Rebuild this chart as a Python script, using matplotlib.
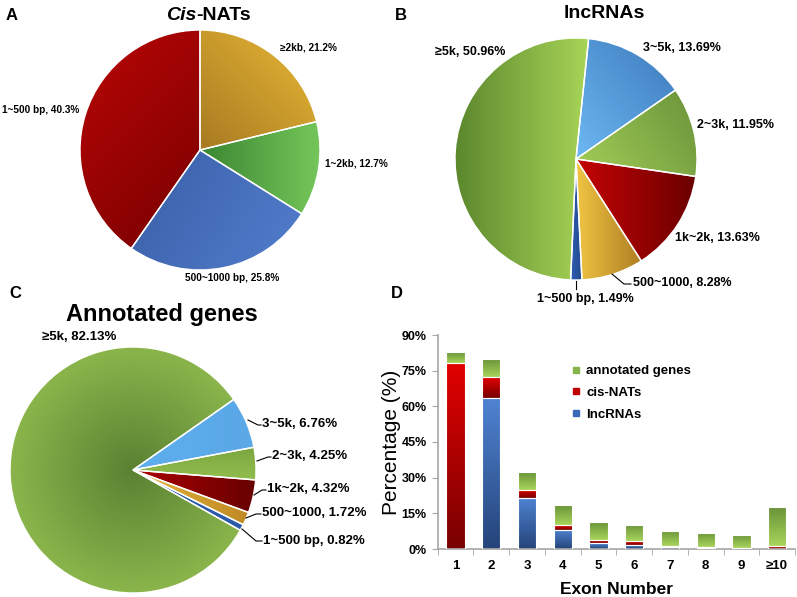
import numpy as np
import matplotlib
matplotlib.use("Agg")
import matplotlib.pyplot as plt
from matplotlib.colors import LinearSegmentedColormap
from matplotlib.lines import Line2D

plt.rcParams['font.family'] = ['Liberation Sans', 'DejaVu Sans']

W, H = 797, 597

# ---- data ----
cis_labels = ['≥2kb', '1~2kb', '500~1000 bp', '1~500 bp']
cis_values = [21.2, 12.7, 25.8, 40.3]

lnc_labels = ['3~5k', '2~3k', '1k~2k', '500~1000', '1~500 bp', '≥5k']
lnc_values = [13.69, 11.95, 13.63, 8.28, 1.49, 50.96]

ann_labels = ['3~5k', '2~3k', '1k~2k', '500~1000', '1~500 bp', '≥5k']
ann_values = [6.76, 4.25, 4.32, 1.72, 0.82, 82.13]

exon_labels = ['1', '2', '3', '4', '5', '6', '7', '8', '9', '≥10']
exon_lnc = [0, 63.7, 21.5, 8.2, 2.4, 1.8, 1.0, 0.3, 0.2, 0.2]
exon_cis = [78.4, 8.8, 3.5, 2.1, 1.5, 1.4, 0.3, 0.4, 0.1, 1.2]
exon_ann = [4.6, 7.4, 7.3, 8.1, 7.5, 7.0, 6.4, 6.1, 5.6, 16.2]
yticks = [0, 15, 30, 45, 60, 75, 90]


def shade(ax, patch, extent, c1, c2, angle=None, z=2):
    """fill patch with a gradient image clipped to it"""
    n = 80
    x0, x1, y0, y1 = extent
    X, Y = np.meshgrid(np.linspace(x0, x1, n), np.linspace(y0, y1, n))
    if angle is None:
        t = np.hypot(X, Y)
        t = t / t.max()
    else:
        a = np.deg2rad(angle)
        t = X * np.cos(a) + Y * np.sin(a)
        t = (t - t.min()) / (t.max() - t.min() + 1e-12)
    cmap = LinearSegmentedColormap.from_list('g', [c1, c2])
    im = ax.imshow(t, cmap=cmap, extent=extent, origin='lower',
                   interpolation='bilinear', aspect='auto', zorder=z)
    im.set_clip_path(patch)


def pie_axes(cx, cy, r, half=1.6):
    ax = fig.add_axes([(cx - half * r) / W, (H - cy - half * r) / H,
                       2 * half * r / W, 2 * half * r / H])
    return ax


def draw_pie(ax, values, start, shades, half=1.6):
    wedges, _ = ax.pie(values, startangle=start, counterclock=False,
                       wedgeprops=dict(edgecolor='white', linewidth=1.0))
    for w, s in zip(wedges, shades):
        w.set_facecolor('none')
        w.set_zorder(3)
        ext = w.get_path().get_extents()
        if s[2] == 'radial':
            extent = (-1, 1, -1, 1)
            shade(ax, w, extent, s[0], s[1], None)
        else:
            extent = (ext.x0, ext.x1, ext.y0, ext.y1)
            shade(ax, w, extent, s[0], s[1], s[2])
    ax.set_xlim(-half, half)
    ax.set_ylim(-half, half)
    ax.set_axis_off()


def px(cx, cy, r, x, y):
    return (x - cx) / r, (cy - y) / r


fig = plt.figure(figsize=(W / 100, H / 100), dpi=100)

# ---- A: cis-NATs ----
A = (200, 150, 120)
axA = pie_axes(*A)
draw_pie(axA, cis_values, 90, [
    ('#A87A22', '#E9B935', 45),
    ('#3B8632', '#74C65A', 0),
    ('#3A5EA6', '#527ECE', -30),
    ('#BA0606', '#780000', -45),
])
for lab, v, (x, y), ha in zip(cis_labels, cis_values,
                              [(280, 47), (325, 163), (232, 278), (2, 110)],
                              ['left', 'left', 'center', 'left']):
    axA.text(*px(*A, x, y), f'{lab}, {v}%', ha=ha, va='center',
             fontsize=7.2, fontweight='bold')

# ---- B: lncRNAs ----
B = (576, 159, 121)
axB = pie_axes(*B)
draw_pie(axB, lnc_values, 84, [
    ('#6DB8F2', '#3C79BC', 40),
    ('#A4CE57', '#69933A', 35),
    ('#C40404', '#6C0000', 0),
    ('#F0C443', '#AE7E22', 0),
    ('#2D5CB0', '#24498C', 0),
    ('#5C882E', '#A8D457', 0),
])
posB = [(643, 48), (697, 125), (675, 238), (633, 283), (537, 299), (435, 52)]
for lab, v, (x, y) in zip(lnc_labels, lnc_values, posB):
    axB.text(*px(*B, x, y), f'{lab}, {v:.2f}%', ha='left', va='center',
             fontsize=9, fontweight='bold')
for pts in [[(612, 274), (624, 284), (631, 284)], [(576, 281), (576, 289)]]:
    xs, ys = zip(*[px(*B, a, b) for a, b in pts])
    axB.plot(xs, ys, color='black', lw=0.8, zorder=4)

# ---- C: annotated genes ----
C = (133, 470, 123)
axC = pie_axes(*C)
draw_pie(axC, ann_values, 35, [
    ('#5EAEEE', '#5AA8E6', 0),
    ('#92BE4E', '#7BA640', 90),
    ('#AC0000', '#680000', 0),
    ('#E3B43A', '#C08A25', 0),
    ('#2C5AA8', '#2C5AA8', 0),
    ('#5A8233', '#9ECA55', 'radial'),
])
posC = [(262, 424), (272, 456), (267, 489), (262, 513), (263, 541), (42, 337)]
leadC = [[(248, 420), (258, 425), (261, 425)],
         [(257, 461), (268, 457), (271, 457)],
         [(254, 495), (262, 490), (266, 490)],
         [(246, 518), (256, 514), (261, 514)],
         [(242, 529), (256, 541), (262, 541)]]
for lab, v, (x, y) in zip(ann_labels, ann_values, posC):
    axC.text(*px(*C, x, y), f'{lab}, {v:.2f}%', ha='left', va='center',
             fontsize=9.5, fontweight='bold')
for pts in leadC:
    xs, ys = zip(*[px(*C, a, b) for a, b in pts])
    axC.plot(xs, ys, color='black', lw=0.8, zorder=4)

# ---- titles and panel letters ----
def ftext(x, y, s, **kw):
    fig.text(x / W, 1 - y / H, s, **kw)

ftext(196, 15, 'Cis', ha='right', va='center', fontsize=14,
      fontweight='bold', fontstyle='italic')
ftext(196, 15, '-NATs', ha='left', va='center', fontsize=14, fontweight='bold')
ftext(604, 14, 'lncRNAs', ha='center', va='center', fontsize=14, fontweight='bold')
ftext(162, 314, 'Annotated genes', ha='center', va='center', fontsize=17,
      fontweight='bold')
for (x, y), s in zip([(12, 15), (401, 15), (15, 294), (397, 294)], 'ABCD'):
    ftext(x, y, s, ha='center', va='center', fontsize=12, fontweight='bold')

# ---- D: exon number ----
axD = fig.add_axes([437.7 / W, 48 / H, 357.3 / W, 214 / H])
x = np.arange(len(exon_labels))
bw = 0.51
series = [(exon_lnc, '#4F83D2', '#25447A'),
          (exon_cis, '#E20000', '#780000'),
          (exon_ann, '#6A9438', '#A8D45C')]
bottom = np.zeros(len(x))
for vals, ctop, cbot in series:
    bars = axD.bar(x, vals, bw, bottom=bottom, facecolor='none',
                   edgecolor='white', linewidth=0.8, zorder=3)
    for b in bars:
        if b.get_height() <= 0:
            continue
        ext = (b.get_x(), b.get_x() + b.get_width(), b.get_y(),
               b.get_y() + b.get_height())
        shade(axD, b, ext, cbot, ctop, 90, z=2)
    bottom += np.array(vals)

axD.set_xlim(-0.5, len(x) - 0.5)
axD.set_ylim(0, 90)
axD.set_yticks(yticks)
axD.set_yticklabels([f'{t}%' for t in yticks], fontsize=9, fontweight='bold')
axD.set_xticks(x)
axD.set_xticklabels(exon_labels, fontsize=9.5, fontweight='bold')
axD.set_xticks(np.arange(-0.5, len(x)), minor=True)
axD.tick_params(axis='x', which='major', length=0, pad=8)
axD.tick_params(axis='x', which='minor', length=4, color='#A6A6A6')
axD.tick_params(axis='y', length=4, color='#A6A6A6', pad=4)
for s in ['top', 'right']:
    axD.spines[s].set_visible(False)
for s in ['left', 'bottom']:
    axD.spines[s].set_color('#A6A6A6')
    axD.spines[s].set_linewidth(1.2)
axD.set_ylabel('Percentage (%)', fontsize=15, labelpad=0)
axD.set_xlabel('Exon Number', fontsize=12.5, fontweight='bold', labelpad=7)

handles = [Line2D([], [], marker='s', ls='', color=c, markersize=4.5)
           for c in ['#86B44A', '#C00000', '#3A68B8']]
axD.legend(handles, ['annotated genes', 'cis-NATs', 'lncRNAs'],
           loc='upper left', bbox_to_anchor=(0.375, 0.86), frameon=False,
           borderpad=0, borderaxespad=0, handlelength=0.6, handletextpad=0.5,
           labelspacing=0.72, prop=dict(size=9.5, weight='bold'))

fig.savefig('out.png', dpi=100)
